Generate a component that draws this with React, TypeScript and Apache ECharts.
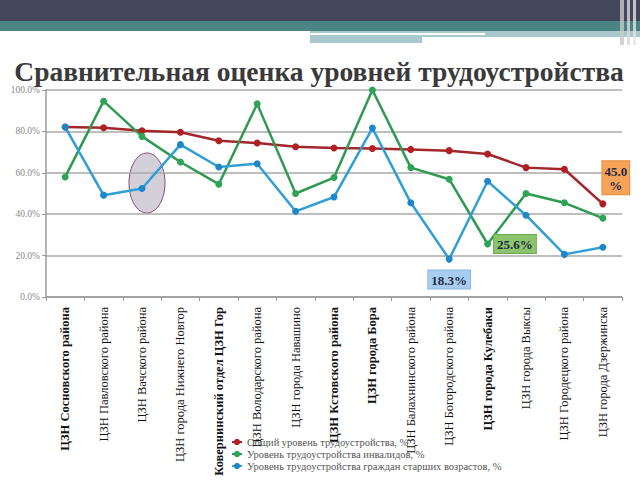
import React, { useEffect, useRef } from "react";
import * as echarts from "echarts";

const categories = [
  "ЦЗН Сосновского района",
  "ЦЗН Павловского района",
  "ЦЗН Вачского района",
  "ЦЗН города Нижнего Новгор",
  "Ковернинский отдел ЦЗН Гор",
  "ЦЗН Володарского района",
  "ЦЗН города Навашино",
  "ЦЗН Кстовского района",
  "ЦЗН города Бора",
  "ЦЗН Балахнинского района",
  "ЦЗН Богородского района",
  "ЦЗН города Кулебаки",
  "ЦЗН города Выксы",
  "ЦЗН Городецкого района",
  "ЦЗН города Дзержинска",
];
const boldCategories = [0, 4, 7, 8, 11];

const seriesNames = [
  "Общий уровень трудоустройства, %",
  "Уровень трудоустройства инвалидов, %",
  "Уровень трудоустройства граждан старших возрастов, %",
];
const overall = [82.1, 81.8, 80.3, 79.6, 75.5, 74.4, 72.6, 72.0, 71.7, 71.3, 70.7, 69.1, 62.5, 61.7, 45.0];
const disabled = [58.0, 94.6, 77.6, 65.2, 54.5, 93.3, 50.0, 57.7, 100.0, 62.5, 56.9, 25.6, 50.0, 45.5, 38.1];
const senior = [82.1, 49.2, 52.4, 73.6, 62.8, 64.4, 41.4, 48.3, 81.6, 45.5, 18.3, 55.9, 39.5, 20.6, 24.0];
const yTicks = { min: 0, max: 100, interval: 20 };

const SERIF = "Times New Roman";

export default function App() {
  const ref = useRef<HTMLDivElement>(null);
  useEffect(() => {
    if (!ref.current) return;
    const chart = echarts.init(ref.current, undefined, { renderer: "svg" });
    const labelText = { fontFamily: SERIF, fontWeight: "bold", fontSize: 13, color: "#1f2a44" };

    const withLabel = (arr: number[], idx: number, label: any) =>
      arr.map((v, i) => (i === idx ? { value: v, label: { show: true, ...labelText, ...label } } : v));

    const redIdx = overall.length - 1;
    const greenIdx = disabled.indexOf(Math.min(...disabled));
    const blueIdx = senior.indexOf(Math.min(...senior));

    chart.setOption({
      animation: false,
      backgroundColor: "#ffffff",
      title: {
        text: "Сравнительная оценка уровней трудоустройства",
        left: 314,
        textAlign: "center",
        top: 52,
        textStyle: { fontFamily: SERIF, fontWeight: "bold", fontSize: 27.5, lineHeight: 28, color: "#3a3a3a" },
      },
      graphic: [
        { type: "rect", shape: { x: 0, y: 0, width: 640, height: 21 }, style: { fill: "#444659" }, z: 10 },
        { type: "rect", shape: { x: 0, y: 21, width: 640, height: 10 }, style: { fill: "#4a8584" }, z: 10 },
        { type: "rect", shape: { x: 310, y: 31, width: 330, height: 6 }, style: { fill: "#a9c8cb" }, z: 10 },
        { type: "rect", shape: { x: 0, y: 33, width: 485, height: 2 }, style: { fill: "#ffffff" }, z: 11 },
        { type: "rect", shape: { x: 310, y: 37, width: 112, height: 6 }, style: { fill: "#a9c8cb" }, z: 10 },
        { type: "rect", shape: { x: 620, y: 0, width: 4, height: 45 }, style: { fill: "#c8c8cc", opacity: 0.8 }, z: 12 },
        { type: "rect", shape: { x: 627, y: 0, width: 3, height: 45 }, style: { fill: "#d8d8dc", opacity: 0.8 }, z: 12 },
        { type: "rect", shape: { x: 633, y: 0, width: 3, height: 45 }, style: { fill: "#e4e4e8", opacity: 0.8 }, z: 12 },
        {
          type: "ellipse",
          shape: { cx: 147, cy: 183, rx: 18, ry: 30 },
          style: { fill: "rgba(205,200,210,0.85)", stroke: "#8a4a7c", lineWidth: 1 },
          z: 0,
        },
      ],
      grid: { left: 46, right: 18, top: 90, bottom: 183, containLabel: false },
      legend: {
        orient: "vertical",
        left: 226,
        top: 431,
        itemGap: 0,
        itemWidth: 10,
        itemHeight: 8,
        textStyle: { fontFamily: SERIF, fontSize: 10.5, lineHeight: 12, color: "#555" },
        data: seriesNames,
      },
      xAxis: {
        type: "category",
        data: categories.map((c, i) =>
          boldCategories.includes(i) ? { value: c, textStyle: { fontWeight: "bold" } } : c
        ),
        boundaryGap: true,
        axisLine: { lineStyle: { color: "#9a9a9a", width: 1.5 } },
        axisTick: { show: true, length: 4, lineStyle: { color: "#9a9a9a" } },
        axisLabel: {
          rotate: 90,
          interval: 0,
          margin: 10,
          fontFamily: SERIF,
          fontSize: 12.5,
          color: "#111",
        },
      },
      yAxis: {
        type: "value",
        min: yTicks.min,
        max: yTicks.max,
        interval: yTicks.interval,
        axisLine: { show: true, lineStyle: { color: "#9a9a9a", width: 1.5 } },
        axisTick: { show: true, length: 4, lineStyle: { color: "#9a9a9a" } },
        splitLine: { lineStyle: { color: "#a8a8a8", width: 1.5 } },
        axisLabel: {
          fontFamily: SERIF,
          fontSize: 9.5,
          color: "#8a8a8a",
          margin: 6,
          formatter: (v: number) => v.toFixed(1) + "%",
        },
      },
      series: [
        {
          name: seriesNames[0],
          type: "line",
          data: withLabel(overall, redIdx, {
            position: "top",
            offset: [13, -1],
            formatter: (p: any) => p.value.toFixed(1) + "\n%",
            backgroundColor: "#f6a35a",
            borderColor: "#e88a3a",
            borderWidth: 1,
            padding: [3, 2, 2, 2],
            lineHeight: 14,
            align: "center",
          }),
          symbol: "circle",
          symbolSize: 7,
          itemStyle: { color: "#b01f24" },
          lineStyle: { color: "#a3262a", width: 2.5 },
          z: 3,
        },
        {
          name: seriesNames[1],
          type: "line",
          data: withLabel(disabled, greenIdx, {
            position: "right",
            offset: [-2, 0],
            formatter: (p: any) => p.value.toFixed(1) + "%",
            backgroundColor: "#8cc46c",
            borderColor: "#6aa84f",
            borderWidth: 1,
            padding: [3, 3, 2, 3],
          }),
          symbol: "circle",
          symbolSize: 7,
          itemStyle: { color: "#2fa456" },
          lineStyle: { color: "#2e9a52", width: 2.5 },
          z: 3,
        },
        {
          name: seriesNames[2],
          type: "line",
          data: withLabel(senior, blueIdx, {
            position: "bottom",
            offset: [0, 3],
            formatter: (p: any) => p.value.toFixed(1) + "%",
            backgroundColor: "#a9cdf0",
            borderColor: "#8ab8e6",
            borderWidth: 1,
            padding: [3, 3, 2, 3],
          }),
          symbol: "circle",
          symbolSize: 7,
          itemStyle: { color: "#1f86c8" },
          lineStyle: { color: "#2f9fd6", width: 2.5 },
          z: 3,
        },
      ],
    });
    return () => chart.dispose();
  }, []);
  return (
    <div
      ref={ref}
      style={{ position: "fixed", left: 0, top: 0, width: 640, height: 480, background: "#fff" }}
    />
  );
}
